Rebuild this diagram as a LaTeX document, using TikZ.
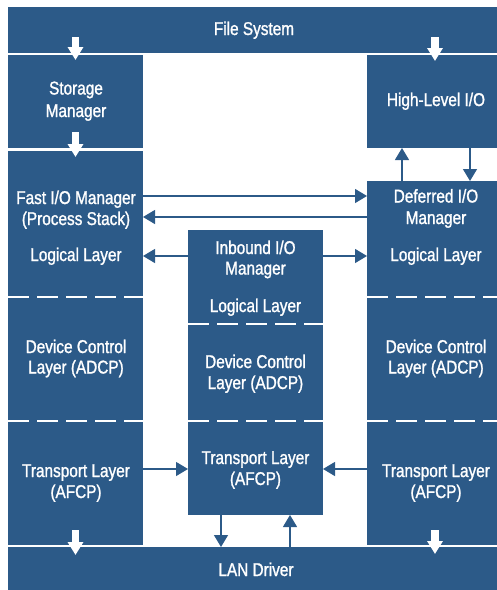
\documentclass[tikz,border=0pt]{standalone}
\usepackage{fontspec}
\setmainfont{Liberation Sans}[FakeStretch=0.83,FakeBold=1.2]
\usetikzlibrary{arrows.meta,calc}
\definecolor{layerblue}{RGB}{44,90,136}
\tikzset{
  box/.style={fill=layerblue, draw=none, inner sep=0pt, outer sep=0pt, anchor=north west},
  lbl/.style={text=white, font=\fontsize{18.5}{21}\selectfont, anchor=base, inner sep=0pt},
  sep/.style={white, line width=2pt, dash pattern=on 21pt off 8pt},
  flow/.style={layerblue, line width=1.2pt, -{Triangle[length=12pt,width=14pt]}},
  pass/.style={white, line width=7.5pt, -{Triangle[length=13pt,width=15pt]}},
}
\begin{document}
\begin{tikzpicture}[x=1pt,y=-1pt]
\useasboundingbox (0,0) rectangle (497,590);

% bars across the whole width
\node[box, minimum width=489pt, minimum height=46pt] (fs) at (8,7) {};
\node[box, minimum width=489pt, minimum height=43pt] (lan) at (8,547) {};

% left column
\node[box, minimum width=135pt, minimum height=93pt]  (storage) at (8,55) {};
\node[box, minimum width=135pt, minimum height=146pt] (fastio)  at (8,151) {};
\node[box, minimum width=135pt, minimum height=124pt] (ldev)    at (8,297) {};
\node[box, minimum width=135pt, minimum height=124pt] (ltrans)  at (8,421) {};

% middle column
\node[box, minimum width=135pt, minimum height=94pt] (inbound) at (188,230) {};
\node[box, minimum width=135pt, minimum height=97pt] (mdev)    at (188,324) {};
\node[box, minimum width=135pt, minimum height=94pt] (mtrans)  at (188,421) {};

% right column
\node[box, minimum width=130pt, minimum height=93pt]  (high)     at (367,55) {};
\node[box, minimum width=130pt, minimum height=116pt] (deferred) at (367,181) {};
\node[box, minimum width=130pt, minimum height=124pt] (rdev)     at (367,297) {};
\node[box, minimum width=130pt, minimum height=124pt] (rtrans)   at (367,421) {};

% dashed layer boundaries
\draw[sep] (fastio.south west)  -- (fastio.south east);
\draw[sep] (ldev.south west)    -- (ldev.south east);
\draw[sep] (inbound.south west) -- (inbound.south east);
\draw[sep] (mdev.south west)    -- (mdev.south east);
\draw[sep] (deferred.south west) -- (deferred.south east);
\draw[sep] (rdev.south west)    -- (rdev.south east);

% labels
\node[lbl] (tfs) at (254,35) {File System};
\node[lbl] (tsm1) at (76,94.5) {Storage};
\node[lbl] (tsm2) at (76,117) {Manager};
\node[lbl] (thl) at (436,106) {High-Level I/O};
\node[lbl] (tfi1) at (76,204) {Fast I/O Manager};
\node[lbl] (tfi2) at (76,225) {(Process Stack)};
\node[lbl] (tfi3) at (76,261) {Logical Layer};
\node[lbl] (tdf1) at (436,202.5) {Deferred I/O};
\node[lbl] (tdf2) at (436,224) {Manager};
\node[lbl] (tdf3) at (436,261) {Logical Layer};
\node[lbl] (tib1) at (255.5,254) {Inbound I/O};
\node[lbl] (tib2) at (255.5,274.5) {Manager};
\node[lbl] (tib3) at (255.5,312) {Logical Layer};
\node[lbl] (tld1) at (76,353) {Device Control};
\node[lbl] (tld2) at (76,373.5) {Layer (ADCP)};
\node[lbl] (tmd1) at (255.5,368) {Device Control};
\node[lbl] (tmd2) at (255.5,389) {Layer (ADCP)};
\node[lbl] (trd1) at (436,353) {Device Control};
\node[lbl] (trd2) at (436,373.5) {Layer (ADCP)};
\node[lbl] (tlt1) at (76,477) {Transport Layer};
\node[lbl] (tlt2) at (76,498) {(AFCP)};
\node[lbl] (tmt1) at (255.5,464) {Transport Layer};
\node[lbl] (tmt2) at (255.5,485) {(AFCP)};
\node[lbl] (trt1) at (436,477) {Transport Layer};
\node[lbl] (trt2) at (436,498) {(AFCP)};
\node[lbl] (tlan) at (256,576) {LAN Driver};

% white pass-through arrows between stacked boxes
\draw[pass] ($(fs.south -| storage.north)+(0,-16)$) -- ($(storage.north)+(0,5)$);
\draw[pass] ($(fs.south -| 435,0)+(0,-16)$) -- ($(high.north -| 435,0)+(0,6)$);
\draw[pass] ($(storage.south)+(0,-16)$) -- ($(fastio.north)+(0,6)$);
\draw[pass] ($(ltrans.south)+(0,-15)$) -- ($(lan.north -| ltrans.south)+(0,8)$);
\draw[pass] ($(rtrans.south -| 435,0)+(0,-15)$) -- ($(lan.north -| 435,0)+(0,7)$);

% connectors between managers and layers
\draw[flow] (fastio.east |- 0,196) -- (deferred.west |- 0,196);
\draw[flow] (deferred.west |- 0,217) -- (fastio.east |- 0,217);
\draw[flow] (inbound.west |- 0,256) -- (fastio.east |- 0,256);
\draw[flow] (inbound.east |- 0,256) -- (deferred.west |- 0,256);
\draw[flow] (deferred.north -| 402,0) -- (high.south -| 402,0);
\draw[flow] (high.south -| 470,0) -- (deferred.north -| 470,0);
\draw[flow] (ltrans.east |- 0,469) -- (mtrans.west |- 0,469);
\draw[flow] (rtrans.west |- 0,469) -- (mtrans.east |- 0,469);
\draw[flow] (mtrans.south -| 221,0) -- (lan.north -| 221,0);
\draw[flow] (lan.north -| 290,0) -- (mtrans.south -| 290,0);
\end{tikzpicture}
\end{document}
